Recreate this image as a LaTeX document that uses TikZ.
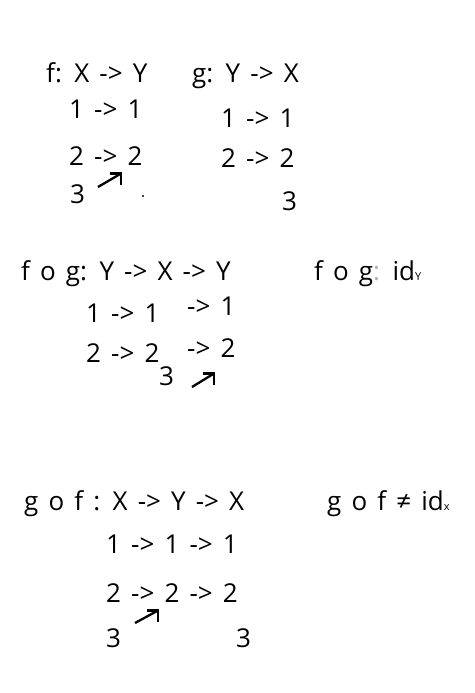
\documentclass[tikz,border=0pt]{standalone}
\usepackage{fontspec}
\setmainfont{Open Sans}[WordSpace={1.5}]
\begin{document}
\begin{tikzpicture}[x=1pt,y=-1pt,
  txt/.style={anchor=base west,inner sep=0pt,font=\fontsize{26}{30}\selectfont},
  shaft/.style={line width=2.3pt,line cap=butt},
  head/.style={line width=2.3pt,miter limit=10,line join=miter}]
\useasboundingbox (0,0) rectangle (474,693);
% row 1
\node[txt] (fhead) at (46,82) {f: X -> Y};
\node[txt] (f1) at (69,118) {1 -> 1};
\node[txt] (f2) at (69,165) {2 -> 2};
\node[txt] (f3) at (70,203) {3};
\coordinate (fa0) at (98,187);
\coordinate (fa1) at (121,173.5);
\draw[shaft] (fa0) -- (fa1);
\draw[head] (fa1) ++(-11,0) -- (fa1) -- ++(0,11);
\fill (143,196) circle (1.2pt);
\node[txt] (ghead) at (192,82) {g: Y -> X};
\node[txt] (g1) at (221,127) {1 -> 1};
\node[txt] (g2) at (221,167) {2 -> 2};
\node[txt] (g3) at (282,210) {3};
% row 2
\node[txt] (fghead) at (21,280) {f o g: Y -> X -> Y};
\node[txt] (fgid) at (314,280) {f o g{\color{gray!60}:} id{\fontsize{11}{11}\selectfont Y}};
\node[txt] (fg1a) at (86,322) {1 -> 1};
\node[txt] (fg1b) at (187,315) {-> 1};
\node[txt] (fg2a) at (86,362) {2 -> 2};
\node[txt] (fg2b) at (187,357) {-> 2};
\node[txt] (fg3) at (159,385) {3};
\coordinate (fga0) at (192,387);
\coordinate (fga1) at (214,373.5);
\draw[shaft] (fga0) -- (fga1);
\draw[head] (fga1) ++(-11,0) -- (fga1) -- ++(0,11);
% row 3
\node[txt] (gfhead) at (24,510) {g o f : X -> Y -> X};
\node[txt] (gfid) at (327,510) {g o f ≠ id{\fontsize{11}{11}\selectfont x}};
\node[txt] (gf1) at (106,553) {1 -> 1 -> 1};
\node[txt] (gf2) at (106,602) {2 -> 2 -> 2};
\node[txt] (gf3a) at (106,647) {3};
\node[txt] (gf3b) at (236,647) {3};
\coordinate (gfa0) at (135,623);
\coordinate (gfa1) at (158,610.5);
\draw[shaft] (gfa0) -- (gfa1);
\draw[head] (gfa1) ++(-11,0) -- (gfa1) -- ++(0,11);
\end{tikzpicture}
\end{document}
